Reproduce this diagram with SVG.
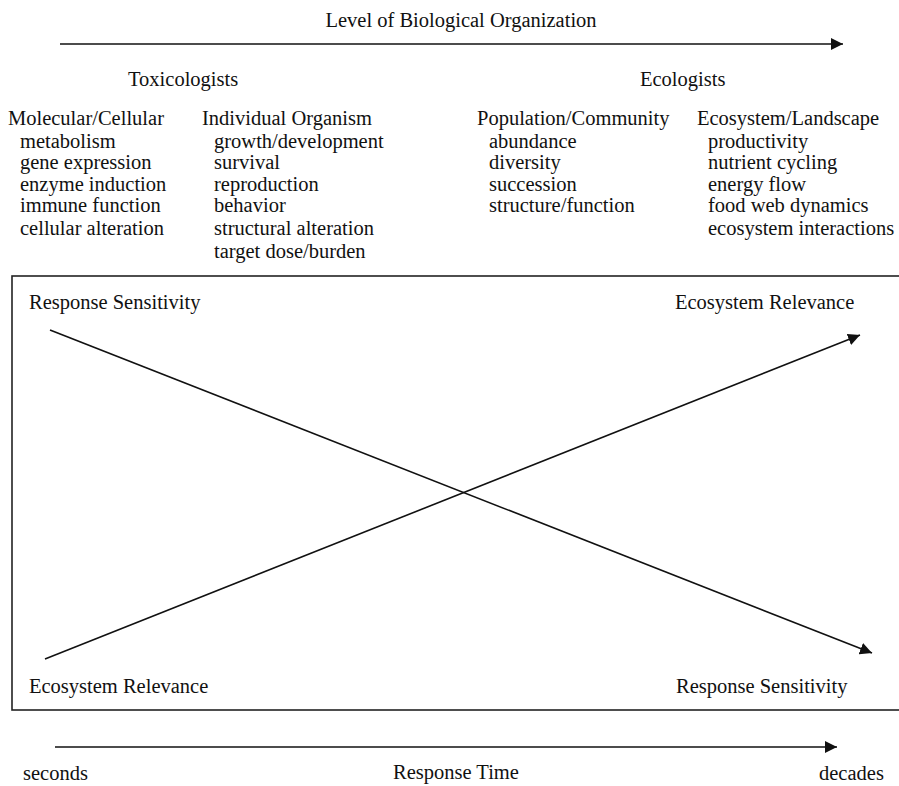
<svg xmlns="http://www.w3.org/2000/svg" width="899" height="786" viewBox="0 0 899 786">
<defs>
<style>
text{font-family:"Liberation Serif","Times New Roman",serif;font-size:20.5px;fill:#111}
.ln{stroke:#111;stroke-width:1.6;fill:none}
</style>
<marker id="ah" markerUnits="userSpaceOnUse" markerWidth="12" markerHeight="12" refX="12" refY="6" orient="auto">
<path d="M0,0 L12,6 L0,12 z" fill="#111"/>
</marker>
</defs>
<rect width="899" height="786" fill="#fff"/>
<g id="title">
<text x="461" y="27" text-anchor="middle">Level of Biological Organization</text>
</g>
<g id="groups">
<text x="128" y="86">Toxicologists</text>
<text x="640" y="86">Ecologists</text>
</g>
<g id="col-molecular">
<text x="8" y="125">Molecular/Cellular</text>
<text x="20" y="148">metabolism</text>
<text x="20" y="169">gene expression</text>
<text x="20" y="191">enzyme induction</text>
<text x="20" y="212">immune function</text>
<text x="20" y="235">cellular alteration</text>
</g>
<g id="col-individual">
<text x="202" y="125">Individual Organism</text>
<text x="214" y="148">growth/development</text>
<text x="214" y="169">survival</text>
<text x="214" y="191">reproduction</text>
<text x="214" y="212">behavior</text>
<text x="214" y="235">structural alteration</text>
<text x="214" y="258">target dose/burden</text>
</g>
<g id="col-population">
<text x="477" y="125">Population/Community</text>
<text x="489" y="148">abundance</text>
<text x="489" y="169">diversity</text>
<text x="489" y="191">succession</text>
<text x="489" y="212">structure/function</text>
</g>
<g id="col-ecosystem">
<text x="697" y="125">Ecosystem/Landscape</text>
<text x="708" y="148">productivity</text>
<text x="708" y="169">nutrient cycling</text>
<text x="708" y="191">energy flow</text>
<text x="708" y="212">food web dynamics</text>
<text x="708" y="235">ecosystem interactions</text>
</g>
<g id="box">
<rect x="12" y="276" width="900" height="434" fill="none" stroke="#222" stroke-width="1.6"/>
<text x="29" y="309">Response Sensitivity</text>
<text x="675" y="309">Ecosystem Relevance</text>
<text x="29" y="693">Ecosystem Relevance</text>
<text x="676" y="693">Response Sensitivity</text>
</g>
<g id="connectors">
<line class="ln" x1="60" y1="44" x2="843" y2="44" marker-end="url(#ah)"/>
<line class="ln" x1="50" y1="330" x2="872" y2="653" marker-end="url(#ah)"/>
<line class="ln" x1="45" y1="659" x2="860" y2="335" marker-end="url(#ah)"/>
<line class="ln" x1="55" y1="747" x2="837" y2="747" marker-end="url(#ah)"/>
</g>
<g id="axis-labels">
<text x="23" y="780">seconds</text>
<text x="393" y="779">Response Time</text>
<text x="819" y="780">decades</text>
</g>
</svg>
